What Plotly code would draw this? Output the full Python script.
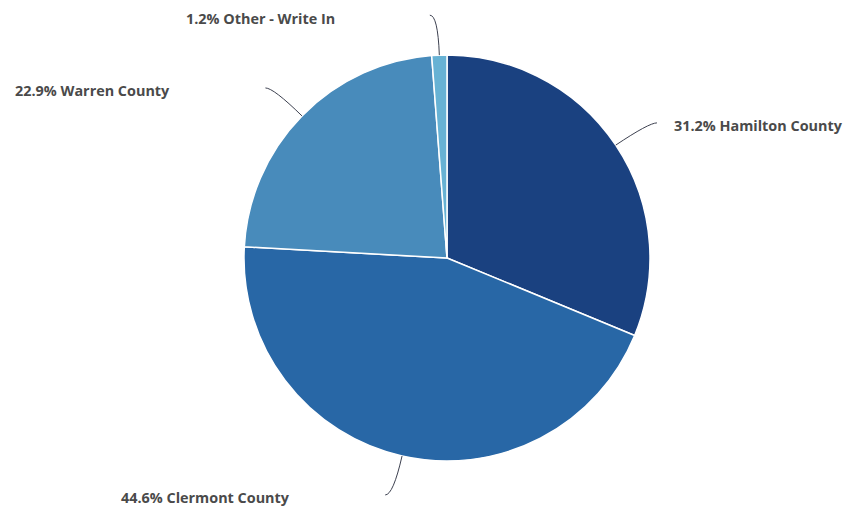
import math
import plotly.graph_objects as go

# Share of responses by county
labels = ["Hamilton County", "Clermont County", "Warren County", "Other - Write In"]
values = [31.2, 44.6, 22.9, 1.2]
colors = ["#1a4180", "#2867a6", "#488bbb", "#67b2d4"]

W, H = 843, 510
CX, CY, R = 447, 258, 203          # pie centre and radius in pixels

fig = go.Figure(go.Pie(
    labels=labels,
    values=values,
    sort=False,
    direction="clockwise",
    rotation=0,
    textinfo="none",
    hoverinfo="label+percent",
    marker=dict(colors=colors, line=dict(color="white", width=1.5)),
    domain=dict(x=[(CX - R) / W, (CX + R) / W], y=[1 - (CY + R) / H, 1 - (CY - R) / H]),
    showlegend=False,
))


def to_paper(px, py):
    return px / W, 1 - py / H


shapes, annotations = [], []
total = sum(values)
cum = 0.0
for lab, val in zip(labels, values):
    mid = (cum + val / 2) / total * 2 * math.pi
    cum += val
    sx, sy = math.sin(mid), -math.cos(mid)
    right = sx >= 0
    p0 = (CX + R * sx, CY + R * sy)
    p1 = (CX + (R + 40) * sx, CY + (R + 40) * sy)
    p2 = (p1[0] + (8 if right else -8), p1[1])
    a, b, c = (to_paper(*p) for p in (p0, p1, p2))
    shapes.append(dict(
        type="path", xref="paper", yref="paper",
        path=f"M {a[0]},{a[1]} Q {b[0]},{b[1]} {c[0]},{c[1]}",
        line=dict(color="#3d4150", width=1),
    ))
    tx = p2[0] + 15 if right else p2[0] - 93
    tx_p, ty_p = to_paper(tx, p2[1] + 3)
    annotations.append(dict(
        x=tx_p, y=ty_p, xref="paper", yref="paper",
        text=f"{val:.1f}% {lab}", showarrow=False,
        xanchor="left" if right else "right", yanchor="middle",
        font=dict(family="Open Sans", size=14.4, color="#4a4a4a", weight=700),
    ))

fig.update_layout(
    width=W, height=H,
    margin=dict(l=0, r=0, t=0, b=0),
    paper_bgcolor="white",
    plot_bgcolor="white",
    shapes=shapes,
    annotations=annotations,
)

fig.write_html("out.html")
